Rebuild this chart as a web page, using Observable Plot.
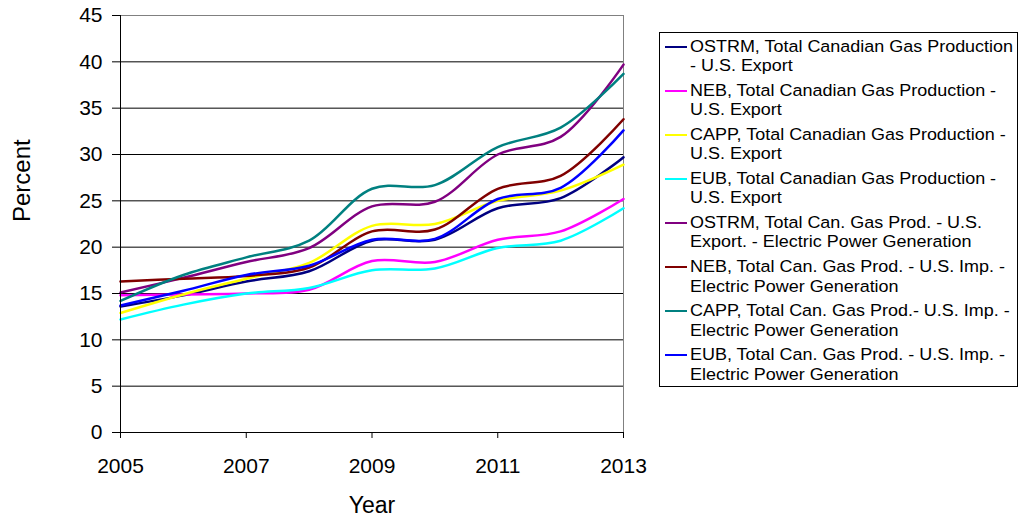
<!DOCTYPE html>
<html>
<head>
<meta charset="utf-8">
<script src="https://cdn.jsdelivr.net/npm/d3@7"></script>
<script src="https://cdn.jsdelivr.net/npm/@observablehq/plot@0.6"></script>
<style>
  html, body { margin: 0; padding: 0; background: #fff; }
  #wrap { position: relative; width: 1021px; height: 521px; font-family: "Liberation Sans", Arial, sans-serif; }
  #legend { position: absolute; left: 659px; top: 32px; width: 359px; height: 355px; box-sizing: border-box;
            border: 1px solid #000; background: #fff; padding-top: 4px; }
  .entry { position: relative; height: 44.05px; }
  .swatch { position: absolute; left: 5px; top: 8.7px; width: 22px; height: 2px; }
  .label { position: absolute; left: 30px; top: 0; font-size: 16.8px; line-height: 19.3px; white-space: pre; color: #000;
           transform: scaleX(1.07); transform-origin: 0 0; }
</style>
</head>
<body>
<div id="wrap"></div>
<script>
const years = [2005, 2006, 2007, 2008, 2009, 2010, 2011, 2012, 2013];
const xTicks = [2005, 2007, 2009, 2011, 2013];
const yTicks = [0, 5, 10, 15, 20, 25, 30, 35, 40, 45];

const seriesNames = [
  "OSTRM, Total Canadian Gas Production\n- U.S. Export",
  "NEB, Total Canadian Gas Production -\nU.S. Export",
  "CAPP, Total Canadian Gas Production -\nU.S. Export",
  "EUB, Total Canadian Gas Production -\nU.S. Export",
  "OSTRM, Total Can. Gas Prod. - U.S.\nExport. - Electric Power Generation",
  "NEB, Total Can. Gas Prod. - U.S. Imp. -\nElectric Power Generation",
  "CAPP, Total Can. Gas Prod.- U.S. Imp. -\nElectric Power Generation",
  "EUB, Total Can. Gas Prod. - U.S. Imp. -\nElectric Power Generation"
];
const seriesColors = ["#000080", "#FF00FF", "#FFFF00", "#00FFFF", "#800080", "#800000", "#008080", "#0000FF"];

const ostrmExport = [13.6, 14.8, 16.3, 17.4, 20.7, 20.8, 24.2, 25.3, 29.7];
const nebExport   = [14.8, 14.9, 15.0, 15.4, 18.5, 18.4, 20.8, 21.7, 25.2];
const cappExport  = [12.9, 14.9, 16.6, 18.3, 22.3, 22.5, 25.0, 26.1, 28.9];
const eubExport   = [12.2, 13.8, 15.0, 15.6, 17.5, 17.7, 19.9, 20.7, 24.2];
const ostrmPower  = [15.1, 16.7, 18.4, 19.9, 24.4, 24.9, 30.0, 31.9, 39.7];
const nebPower    = [16.3, 16.6, 16.9, 17.8, 21.7, 21.9, 26.3, 27.7, 33.8];
const cappPower   = [14.2, 17.0, 18.9, 20.7, 26.3, 26.7, 30.8, 32.9, 38.7];
const eubPower    = [13.7, 15.3, 17.0, 18.0, 20.8, 20.9, 25.2, 26.4, 32.6];

const allSeries = [ostrmExport, nebExport, cappExport, eubExport, ostrmPower, nebPower, cappPower, eubPower];
const data = [];
allSeries.forEach((vals, i) => vals.forEach((v, j) => data.push({series: seriesNames[i], year: years[j], value: v})));

const chart = Plot.plot({
  width: 1021, height: 521,
  marginLeft: 120, marginRight: 398, marginTop: 15, marginBottom: 89,
  style: {fontFamily: "'Liberation Sans', Arial, sans-serif", fontSize: "21px", color: "#000", background: "transparent", overflow: "visible"},
  x: {domain: [2005, 2013]},
  y: {domain: [0, 45]},
  color: {domain: seriesNames, range: seriesColors},
  marks: [
    Plot.ruleY(yTicks.filter(d => d > 0 && d < 45), {stroke: "#000", strokeWidth: 1}),
    Plot.ruleY([45], {stroke: "#808080", strokeWidth: 1}),
    Plot.ruleX([2013], {stroke: "#808080", strokeWidth: 1}),
    Plot.line(data, {x: "year", y: "value", z: "series", stroke: "series", curve: "catmull-rom", strokeWidth: 2.5}),
    Plot.ruleX([2005], {stroke: "#000", strokeWidth: 1}),
    Plot.ruleY([0], {stroke: "#000", strokeWidth: 1}),
    Plot.axisX({ticks: xTicks, tickSize: 6, tickPadding: 20, tickFormat: d => String(d), label: null, fontSize: 21, stroke: "#000"}),
    Plot.axisY({ticks: yTicks, tickSize: 8, tickPadding: 10, label: null, fontSize: 21, stroke: "#000"}),
    Plot.text(["Year"], {frameAnchor: "bottom", dy: 80, fontSize: 23, fill: "#000"}),
    Plot.text(["Percent"], {frameAnchor: "left", dx: -98, dy: -2, rotate: -90, fontSize: 24, fill: "#000"})
  ]
});

const wrap = document.getElementById("wrap");
wrap.appendChild(chart);

const legend = document.createElement("div");
legend.id = "legend";
seriesNames.forEach((name, i) => {
  const e = document.createElement("div");
  e.className = "entry";
  const s = document.createElement("div");
  s.className = "swatch";
  s.style.background = seriesColors[i];
  const t = document.createElement("div");
  t.className = "label";
  t.textContent = name;
  e.appendChild(s); e.appendChild(t);
  legend.appendChild(e);
});
wrap.appendChild(legend);
</script>
</body>
</html>
